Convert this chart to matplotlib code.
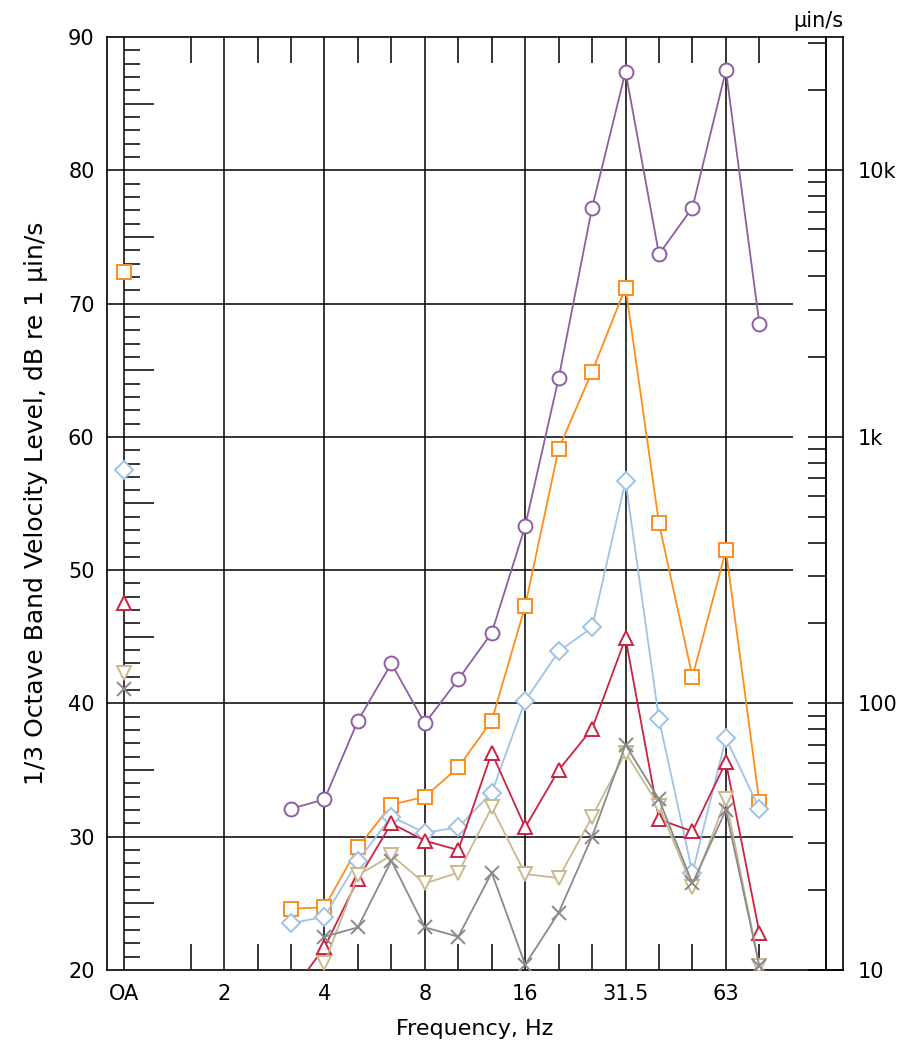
import numpy as np
import matplotlib
matplotlib.use("Agg")
import matplotlib.pyplot as plt
from matplotlib.ticker import FixedLocator, FixedFormatter, NullFormatter

plt.rcParams['font.family'] = ['DejaVu Sans']

# ---------------- data ----------------
bands = [3.15, 4, 5, 6.3, 8, 10, 12.5, 16, 20, 25, 31.5, 40, 50, 63, 80]
nan = np.nan
purple_vals = [32.1, 32.8, 38.7, 43.0, 38.5, 41.8, 45.3, 53.3, 64.4, 77.2, 87.4, 73.7, 77.2, 87.5, 68.5]
orange_vals = [24.6, 24.7, 29.2, 32.4, 33.0, 35.2, 38.7, 47.3, 59.1, 64.9, 71.2, 53.5, 42.0, 51.5, 32.6]
blue_vals   = [23.5, 24.0, 28.2, 31.5, 30.3, 30.7, 33.3, 40.2, 43.9, 45.7, 56.7, 38.8, 27.3, 37.4, 32.1]
red_vals    = [18.3, 21.7, 26.8, 31.0, 29.7, 29.0, 36.3, 30.7, 35.0, 38.1, 44.9, 31.3, 30.4, 35.6, 22.8]
tan_vals    = [nan, 20.5, 27.1, 28.6, 26.5, 27.3, 32.2, 27.2, 26.9, 31.5, 36.3, 32.3, 26.2, 32.8, 20.3]
gray_vals   = [nan, 22.5, 23.2, 28.2, 23.2, 22.5, 27.3, 20.4, 24.3, 30.0, 36.9, 32.8, 26.5, 32.0, 20.3]

# overall (OA) levels
purple_oa = nan
orange_oa = 72.4
blue_oa = 57.5
red_oa = 47.5
tan_oa = 42.3
gray_oa = 41.1

xtick_freqs = [1, 2, 4, 8, 16, 31.5, 63]
xtick_labels = ['OA', '2', '4', '8', '16', '31.5', '63']
minor_freqs = [1.6, 2.5, 3.15, 5, 6.3, 10, 12.5, 20, 25, 40, 50, 80]
right_major = [10, 100, 1000, 10000]
right_labels = ['10', '100', '1k', '10k']

# ---------------- helpers ----------------
def pos(f):
    # third-octave band position in octaves (OA plotted at "1 Hz")
    return np.round(3 * np.log2(np.asarray(f, dtype=float))) / 3.0

xb = pos(bands)
x_oa = 0.0

series = [
    (purple_vals, purple_oa, '#8d5fa0', 'o', 10),
    (orange_vals, orange_oa, '#ff8c1a', 's', 10),
    (blue_vals,   blue_oa,   '#9ec3e5', 'D', 9.5),
    (red_vals,    red_oa,    '#cc2244', '^', 10),
    (tan_vals,    tan_oa,    '#c9b98c', 'v', 10),
    (gray_vals,   gray_oa,   '#8a8a8a', 'x', 10),
]

TICK_FS = 15

fig = plt.figure(figsize=(8.99, 10.49), dpi=100)
ax = fig.add_axes([107/899, 79/1049, 736/899, 933/1049])
xmin, xmax = -1/6, 7 + 1/6
ax.set_xlim(xmin, xmax)
ax.set_ylim(20, 90)

# grid / frame
yt = np.arange(30, 90, 10)
ax.hlines(yt, xmin, 20/3, color='black', lw=1.1, zorder=1)
ax.vlines(pos(xtick_freqs), 20, 90, color='black', lw=1.1, zorder=1)
ax.axvline(7, color='black', lw=1.1, zorder=1)

# left ticks (every 1 dB, longer every 5 dB)
dbs = np.arange(21, 90)
minor_db = dbs[dbs % 5 != 0]
five_db = dbs[(dbs % 5 == 0) & (dbs % 10 != 0)]
ax.hlines(minor_db, 0, 16/100.2, color='black', lw=1.1, zorder=1)
ax.hlines(five_db, 0, 30/100.2, color='black', lw=1.1, zorder=1)

for s in ax.spines.values():
    s.set_linewidth(1.2)

ax.set_xticks(pos(xtick_freqs))
ax.set_xticklabels(xtick_labels)
ax.xaxis.set_minor_locator(FixedLocator(pos(minor_freqs)))
ax.tick_params(axis='x', which='major', length=0, pad=10, labelsize=TICK_FS)
ax.tick_params(axis='x', which='minor', direction='in', length=19, width=1.1,
               top=True, bottom=True, color='black')
ax.set_yticks(np.arange(20, 91, 10))
ax.tick_params(axis='y', which='major', length=0, pad=9, labelsize=TICK_FS)

ax.set_xlabel('Frequency, Hz', fontsize=16, labelpad=11)
ax.set_ylabel('1/3 Octave Band Velocity Level, dB re 1 µin/s', fontsize=18, labelpad=14)

# data
for vals, oa, col, mk, ms in series:
    ax.plot(xb, vals, color=col, lw=1.3, marker=mk, ms=ms, mfc='white',
            mec=col, mew=1.4, zorder=3, clip_on=True)
    if not np.isnan(oa):
        ax.plot([x_oa], [oa], ls='none', marker=mk, ms=ms, mfc='white',
                mec=col, mew=1.4, zorder=3)

# right velocity scale
loc = (7 - xmin) / (xmax - xmin)
sec = ax.secondary_yaxis(loc, functions=(lambda d: 10 ** (np.asarray(d) / 20.0),
                                         lambda v: 20 * np.log10(np.clip(np.asarray(v, float), 1e-9, None))))
sec.yaxis.set_major_locator(FixedLocator(right_major))
sec.yaxis.set_major_formatter(FixedFormatter(right_labels))
minor_v = [m * 10 ** e for e in range(1, 5) for m in range(2, 10)]
minor_v = [v for v in minor_v if v < 10 ** 4.5]
sec.yaxis.set_minor_locator(FixedLocator(minor_v))
sec.yaxis.set_minor_formatter(NullFormatter())
sec.tick_params(which='major', direction='inout', length=25.5, width=1.1, pad=10, labelsize=TICK_FS)
sec.tick_params(which='minor', direction='in', length=13, width=1.1)
sec.spines['right'].set_linewidth(1.1)
ax.annotate('µin/s', xy=(1.0, 1.0), xycoords='axes fraction', xytext=(0, 7),
            textcoords='offset points', ha='right', va='baseline', fontsize=TICK_FS)

fig.savefig('out.png', dpi=100)
